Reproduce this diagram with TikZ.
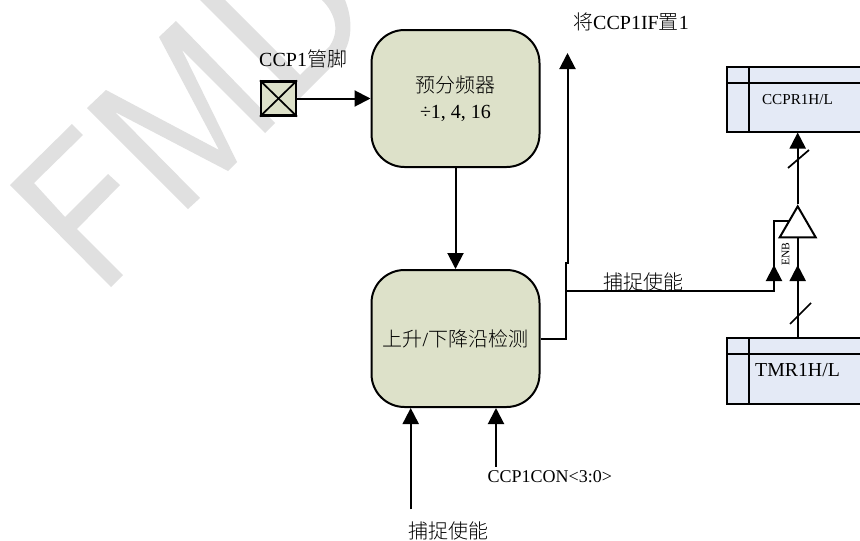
\documentclass[tikz,border=0pt]{standalone}
\usepackage{fontspec}
\setmainfont{Liberation Serif}
\newfontfamily\cjk{Noto Sans CJK SC Light}
\usetikzlibrary{arrows.meta,shapes.geometric}
\definecolor{wm}{HTML}{E0E0E0}
\definecolor{olivefill}{HTML}{DDE1C9}
\definecolor{regfill}{HTML}{E4EAF6}
\tikzset{
  x=1pt,y=-1pt,
  conn/.style={line width=2pt,line cap=butt},
  arr/.style={conn,-{Triangle[width=16pt,length=16pt]},shorten >=0pt},
  block/.style={draw=black,line width=2pt,fill=olivefill,rounded corners=33pt,minimum width=168pt,minimum height=137pt,inner sep=0pt,align=center,font=\fontsize{20}{25}\selectfont},
  reg/.style={draw=black,line width=2pt,fill=regfill,minimum width=143pt,inner sep=0pt},
  lbl/.style={inner sep=0pt,font=\fontsize{20}{24}\selectfont},
  wmark/.style={fill=wm,draw=none},
  slash/.style={line width=1.7pt},
}
\begin{document}
\begin{tikzpicture}
\useasboundingbox (0,0) rectangle (860,541);
\clip (0,0) rectangle (860,541);
\fill[white] (0,0) rectangle (860,541);
% watermark
\fill[wmark] (10,185)--(72,124)--(83,135)--(34,183)--(65,217)--(108,174)--(120,185)--(77,229)--(123,275)--(111,287)--cycle;
\fill[wmark] (87,108)--(106,90)--(219,150)--(159,37)--(176,21)--(275,123)--(265,133)--(182,50)--(237,162)--(228,171)--(115,112)--(200,198)--(188,209)--cycle;
\fill[wmark] (200,0)--(299,99)--(338,60) .. controls (352,46) and (354,22) .. (345,0)--(322,0) .. controls (336,14) and (340,32) .. (329,47)--(300,75)--(225,0)--cycle;
% blocks
\node[block] (pre) at (455.5,98.5) {{\cjk 预分频器}\\[0.5pt]÷1, 4, 16};
\node[block] (edge) at (455.5,338.5) {{\cjk 上升}/{\cjk 下降沿检测}};
\node[draw=black,line width=2.2pt,fill=olivefill,minimum width=35pt,minimum height=34pt,inner sep=0pt] (pin) at (278.5,98.5) {};
\draw[line width=1.7pt] (pin.north west)--(pin.south east) (pin.north east)--(pin.south west);
% registers
\node[reg,minimum height=65pt] (ccpr) at (798.5,99) {};
\node[reg,minimum height=66pt] (tmr) at (798.5,371) {};
\draw[line width=2pt] (748.5,66.5)--(748.5,131.5) (727,82.7)--(860,82.7);
\draw[line width=2pt] (748.5,338)--(748.5,404) (727,354.3)--(860,354.3);
\node[inner sep=0pt,font=\fontsize{15.2}{18}\selectfont] (ccprt) at (797.5,100) {CCPR1H/L};
\node[inner sep=0pt,font=\fontsize{19.8}{24}\selectfont] (tmrt) at (797.5,370) {TMR1H/L};
% buffer
\node[draw=black,fill=white,line width=2pt,isosceles triangle,isosceles triangle apex angle=62,isosceles triangle stretches,shape border rotate=90,minimum width=36pt,minimum height=31pt,inner sep=0pt] (amp) at (797.7,227) {};
\node[inner sep=0pt,rotate=90,font=\fontsize{11.5}{12}\selectfont] (enb) at (785.7,254) {ENB};
% labels
\node[lbl,anchor=west] (pinl) at (259,59) {CCP1{\cjk 管脚}};
\node[lbl,anchor=west] (flag) at (573,22) {{\cjk 将}CCP1IF{\cjk 置}1};
\node[lbl,anchor=west] (cap) at (603,282) {\cjk 捕捉使能};
\node[lbl,anchor=west,font=\fontsize{18}{22}\selectfont] (con) at (487.5,477) {CCP1CON<3:0>};
\node[lbl,anchor=west] (capb) at (408,531) {\cjk 捕捉使能};
% connectors
\coordinate (flagtip) at (567.5,53);
\coordinate (jog) at (566,263);
\coordinate (branch) at (566,291);
\coordinate (enbin) at (774,291);
\coordinate (enbtip) at (774,265);
\coordinate (enbtop) at (774,221);
\coordinate (capstart) at (410.7,509.3);
\coordinate (constart) at (496,466.7);
\draw[arr] (pin.east) -- (pre.west);
\draw[arr] (pre.south) -- (edge.north);
\draw[arr] (edge.east) -- (566,338.5) -- (jog) -- (567.5,263) -- (flagtip);
\draw[conn] (branch) -- (enbin) -- (enbtop) -- (788.5,221);
\draw[arr] (enbin) -- (enbtip);
\draw[arr] (capstart) -- (capstart |- edge.south);
\draw[arr] (constart) -- (constart |- edge.south);
\draw[arr] (amp.apex) -- (ccpr.south -| amp.apex);
\draw[arr] (tmr.north -| amp.apex) -- (797.7,265);
\draw[conn] (797.7,280) -- (797.7,237);
\draw[slash] (788,168)--(809,150);
\draw[slash] (790,324)--(811,303);
\end{tikzpicture}
\end{document}
